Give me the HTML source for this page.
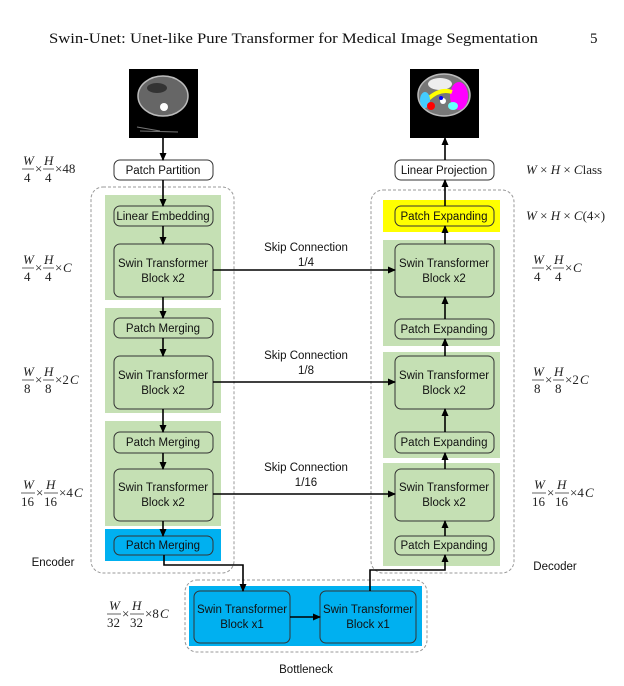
<!DOCTYPE html>
<html><head><meta charset="utf-8"><style>
html,body{margin:0;padding:0;background:#fff}
svg{display:block}
.t{font-family:"Liberation Sans",sans-serif;font-size:11.5px;fill:#111;text-anchor:middle}
.m{font-family:"Liberation Serif",serif;font-style:italic;font-size:13px;fill:#222}
.n{font-family:"Liberation Serif",serif;font-size:13px;fill:#222}
</style></head><body>
<svg width="624" height="686" viewBox="0 0 624 686" xmlns="http://www.w3.org/2000/svg">
<defs>
<marker id="a" markerWidth="8" markerHeight="8" refX="7" refY="4" orient="auto" markerUnits="userSpaceOnUse"><path d="M0,0.5 L8,4 L0,7.5 Z" fill="#000"/></marker>
</defs>
<text x="49" y="43" font-family="Liberation Serif,serif" font-size="15" textLength="489" lengthAdjust="spacingAndGlyphs" fill="#111">Swin-Unet: Unet-like Pure Transformer for Medical Image Segmentation</text>
<text x="590" y="43" font-family="Liberation Serif,serif" font-size="15" fill="#111">5</text>

<rect x="129" y="69" width="69" height="69" fill="#000"/>
<ellipse cx="163" cy="96" rx="25" ry="20" fill="#666" stroke="#bbb" stroke-width="1.5"/>
<ellipse cx="157" cy="88" rx="10" ry="5" fill="#333"/>
<circle cx="164" cy="107" r="4" fill="#fff"/>
<path d="M137,127 L160,131 M140,131 L178,132" stroke="#777" stroke-width="1"/>
<rect x="410" y="69" width="69" height="69" fill="#000"/>
<ellipse cx="444" cy="95" rx="26" ry="21" fill="#777" stroke="#bbb" stroke-width="1.5"/>
<ellipse cx="440" cy="84" rx="12" ry="6" fill="#eee"/>
<ellipse cx="459" cy="96" rx="9" ry="14" fill="#f0f"/>
<path d="M428,99 Q440,88 452,92" stroke="#ff0" stroke-width="4" fill="none"/>
<ellipse cx="425" cy="100" rx="5" ry="8" fill="#4cf"/>
<ellipse cx="431" cy="106" rx="4" ry="4" fill="#f00"/>
<ellipse cx="453" cy="106" rx="5" ry="4" fill="#6ff"/>
<circle cx="443" cy="101" r="3" fill="#fff"/>
<circle cx="441" cy="98" r="2" fill="#00f"/>

<rect x="91" y="187" width="143" height="386" rx="12" fill="none" stroke="#999" stroke-dasharray="3,2"/>
<rect x="371" y="190" width="143" height="383" rx="12" fill="none" stroke="#999" stroke-dasharray="3,2"/>
<rect x="185" y="580" width="242" height="72" rx="12" fill="none" stroke="#999" stroke-dasharray="3,2"/>

<rect x="105" y="195" width="116" height="105" fill="#c5e0b4"/>
<rect x="105" y="308" width="116" height="105" fill="#c5e0b4"/>
<rect x="105" y="421" width="116" height="105" fill="#c5e0b4"/>
<rect x="105" y="529" width="116" height="32" fill="#00b0f0"/>
<rect x="383" y="200" width="117" height="32" fill="#ffff00"/>
<rect x="383" y="240" width="117" height="106" fill="#c5e0b4"/>
<rect x="383" y="352" width="117" height="106" fill="#c5e0b4"/>
<rect x="383" y="463" width="117" height="103" fill="#c5e0b4"/>
<rect x="189" y="586" width="233" height="60" fill="#00b0f0"/>

<g stroke="#333" stroke-width="1">
<rect x="114" y="160" width="99" height="20" rx="6" fill="#fff"/>
<rect x="395" y="160" width="99" height="20" rx="6" fill="#fff"/>
<rect x="114" y="206" width="99" height="20" rx="6" fill="none"/>
<rect x="114" y="244" width="99" height="53" rx="6" fill="none"/>
<rect x="114" y="318" width="99" height="20" rx="6" fill="none"/>
<rect x="114" y="356" width="99" height="53" rx="6" fill="none"/>
<rect x="114" y="432" width="99" height="21" rx="6" fill="none"/>
<rect x="114" y="469" width="99" height="52" rx="6" fill="none"/>
<rect x="114" y="536" width="99" height="19" rx="6" fill="none"/>
<rect x="395" y="206" width="99" height="20" rx="6" fill="none"/>
<rect x="395" y="244" width="99" height="53" rx="6" fill="none"/>
<rect x="395" y="319" width="99" height="20" rx="6" fill="none"/>
<rect x="395" y="356" width="99" height="53" rx="6" fill="none"/>
<rect x="395" y="432" width="99" height="21" rx="6" fill="none"/>
<rect x="395" y="469" width="99" height="52" rx="6" fill="none"/>
<rect x="395" y="536" width="99" height="19" rx="6" fill="none"/>
<rect x="194" y="591" width="96" height="52" rx="6" fill="none"/>
<rect x="320" y="591" width="96" height="52" rx="6" fill="none"/>
</g>

<g class="t">
<text x="163" y="174">Patch Partition</text>
<text x="444" y="174">Linear Projection</text>
<text x="163" y="220">Linear Embedding</text>
<text x="163" y="267">Swin Transformer</text><text x="163" y="282">Block x2</text>
<text x="163" y="332">Patch Merging</text>
<text x="163" y="379">Swin Transformer</text><text x="163" y="394">Block x2</text>
<text x="163" y="446">Patch Merging</text>
<text x="163" y="491">Swin Transformer</text><text x="163" y="506">Block x2</text>
<text x="163" y="549">Patch Merging</text>
<text x="444" y="220">Patch Expanding</text>
<text x="444" y="267">Swin Transformer</text><text x="444" y="282">Block x2</text>
<text x="444" y="333">Patch Expanding</text>
<text x="444" y="379">Swin Transformer</text><text x="444" y="394">Block x2</text>
<text x="444" y="446">Patch Expanding</text>
<text x="444" y="491">Swin Transformer</text><text x="444" y="506">Block x2</text>
<text x="444" y="549">Patch Expanding</text>
<text x="242" y="613">Swin Transformer</text><text x="242" y="628">Block x1</text>
<text x="368" y="613">Swin Transformer</text><text x="368" y="628">Block x1</text>
<text x="306" y="251">Skip Connection</text><text x="306" y="266">1/4</text>
<text x="306" y="359">Skip Connection</text><text x="306" y="374">1/8</text>
<text x="306" y="471">Skip Connection</text><text x="306" y="486">1/16</text>
<text x="53" y="566">Encoder</text>
<text x="555" y="570">Decoder</text>
<text x="306" y="673">Bottleneck</text>
</g>

<g stroke="#000" stroke-width="1.6" fill="none" marker-end="url(#a)">
<line x1="163" y1="138" x2="163" y2="160"/>
<line x1="163" y1="180" x2="163" y2="206"/>
<line x1="163" y1="226" x2="163" y2="244"/>
<line x1="163" y1="297" x2="163" y2="318"/>
<line x1="163" y1="338" x2="163" y2="356"/>
<line x1="163" y1="409" x2="163" y2="432"/>
<line x1="163" y1="453" x2="163" y2="469"/>
<line x1="163" y1="521" x2="163" y2="536"/>
<polyline points="164,555 164,565 243,565 243,591"/>
<line x1="290" y1="617" x2="320" y2="617"/>
<polyline points="370,591 370,570 445,570 445,555"/>
<line x1="445" y1="536" x2="445" y2="521"/>
<line x1="445" y1="469" x2="445" y2="453"/>
<line x1="445" y1="432" x2="445" y2="409"/>
<line x1="445" y1="356" x2="445" y2="339"/>
<line x1="445" y1="319" x2="445" y2="297"/>
<line x1="445" y1="244" x2="445" y2="226"/>
<line x1="445" y1="206" x2="445" y2="180"/>
<line x1="445" y1="160" x2="445" y2="138"/>
<line x1="213" y1="270" x2="395" y2="270"/>
<line x1="213" y1="382" x2="395" y2="382"/>
<line x1="213" y1="494" x2="395" y2="494"/>
</g>

<g>
<g transform="translate(22,155)"><text class="m" x="1" y="10">W</text><line x1="0" y1="14" x2="12" y2="14" stroke="#222" stroke-width="0.7"/><text class="n" x="2" y="27">4</text><text class="n" x="13" y="18">×</text><text class="m" x="22" y="10">H</text><line x1="21" y1="14" x2="32" y2="14" stroke="#222" stroke-width="0.7"/><text class="n" x="23" y="27">4</text><text class="n" x="33" y="18">×48</text></g>
<g transform="translate(22,254)"><text class="m" x="1" y="10">W</text><line x1="0" y1="14" x2="12" y2="14" stroke="#222" stroke-width="0.7"/><text class="n" x="2" y="27">4</text><text class="n" x="13" y="18">×</text><text class="m" x="22" y="10">H</text><line x1="21" y1="14" x2="32" y2="14" stroke="#222" stroke-width="0.7"/><text class="n" x="23" y="27">4</text><text class="n" x="33" y="18">×</text><text class="m" x="41" y="18">C</text></g>
<g transform="translate(22,366)"><text class="m" x="1" y="10">W</text><line x1="0" y1="14" x2="12" y2="14" stroke="#222" stroke-width="0.7"/><text class="n" x="2" y="27">8</text><text class="n" x="13" y="18">×</text><text class="m" x="22" y="10">H</text><line x1="21" y1="14" x2="32" y2="14" stroke="#222" stroke-width="0.7"/><text class="n" x="23" y="27">8</text><text class="n" x="33" y="18">×2</text><text class="m" x="48" y="18">C</text></g>
<g transform="translate(21,479)"><text class="m" x="2" y="10">W</text><line x1="0" y1="14" x2="14" y2="14" stroke="#222" stroke-width="0.7"/><text class="n" x="0" y="27">16</text><text class="n" x="15" y="18">×</text><text class="m" x="25" y="10">H</text><line x1="23" y1="14" x2="37" y2="14" stroke="#222" stroke-width="0.7"/><text class="n" x="23" y="27">16</text><text class="n" x="38" y="18">×4</text><text class="m" x="53" y="18">C</text></g>
<g transform="translate(107,600)"><text class="m" x="2" y="10">W</text><line x1="0" y1="14" x2="14" y2="14" stroke="#222" stroke-width="0.7"/><text class="n" x="0" y="27">32</text><text class="n" x="15" y="18">×</text><text class="m" x="25" y="10">H</text><line x1="23" y1="14" x2="37" y2="14" stroke="#222" stroke-width="0.7"/><text class="n" x="23" y="27">32</text><text class="n" x="38" y="18">×8</text><text class="m" x="53" y="18">C</text></g>
<text x="526" y="174" class="m">W <tspan font-style="normal">×</tspan> H <tspan font-style="normal">×</tspan> C<tspan font-style="normal">lass</tspan></text>
<text x="526" y="220" class="m">W <tspan font-style="normal">×</tspan> H <tspan font-style="normal">×</tspan> C<tspan font-style="normal">(4×)</tspan></text>
<g transform="translate(532,254)"><text class="m" x="1" y="10">W</text><line x1="0" y1="14" x2="12" y2="14" stroke="#222" stroke-width="0.7"/><text class="n" x="2" y="27">4</text><text class="n" x="13" y="18">×</text><text class="m" x="22" y="10">H</text><line x1="21" y1="14" x2="32" y2="14" stroke="#222" stroke-width="0.7"/><text class="n" x="23" y="27">4</text><text class="n" x="33" y="18">×</text><text class="m" x="41" y="18">C</text></g>
<g transform="translate(532,366)"><text class="m" x="1" y="10">W</text><line x1="0" y1="14" x2="12" y2="14" stroke="#222" stroke-width="0.7"/><text class="n" x="2" y="27">8</text><text class="n" x="13" y="18">×</text><text class="m" x="22" y="10">H</text><line x1="21" y1="14" x2="32" y2="14" stroke="#222" stroke-width="0.7"/><text class="n" x="23" y="27">8</text><text class="n" x="33" y="18">×2</text><text class="m" x="48" y="18">C</text></g>
<g transform="translate(532,479)"><text class="m" x="2" y="10">W</text><line x1="0" y1="14" x2="14" y2="14" stroke="#222" stroke-width="0.7"/><text class="n" x="0" y="27">16</text><text class="n" x="15" y="18">×</text><text class="m" x="25" y="10">H</text><line x1="23" y1="14" x2="37" y2="14" stroke="#222" stroke-width="0.7"/><text class="n" x="23" y="27">16</text><text class="n" x="38" y="18">×4</text><text class="m" x="53" y="18">C</text></g>
</g>
</svg>
</body></html>
